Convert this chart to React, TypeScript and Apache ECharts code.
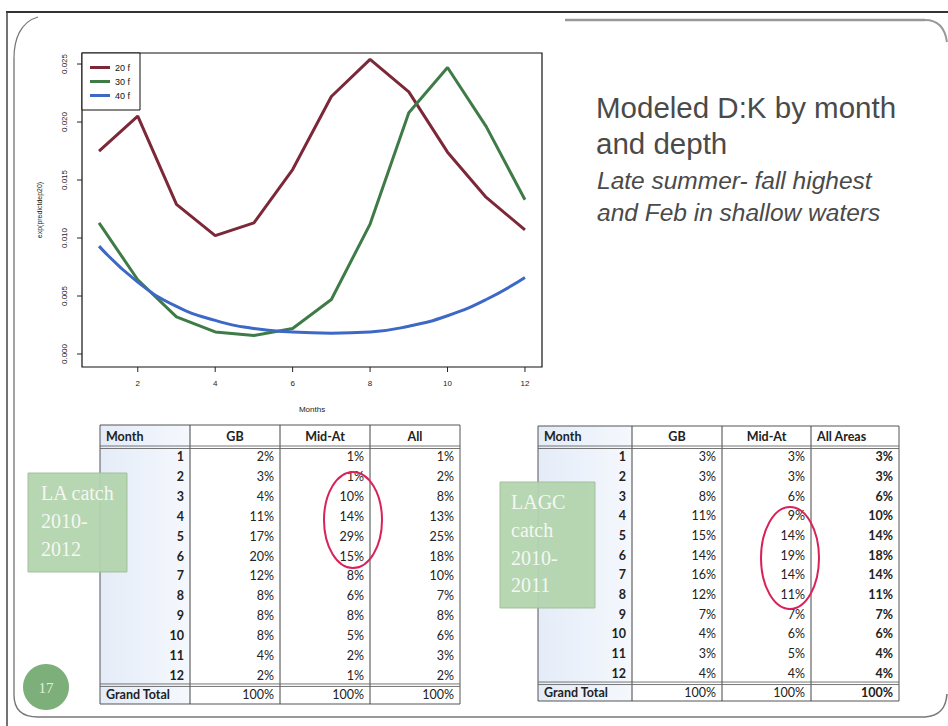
import React, { useEffect, useRef } from "react";
import * as echarts from "echarts";

// ---------- data ----------
const months = [1, 2, 3, 4, 5, 6, 7, 8, 9, 10, 11, 12];
const seriesNames = ["20 f", "30 f", "40 f"];
const dep20 = [0.0175, 0.0205, 0.0129, 0.0102, 0.0113, 0.0159, 0.0222, 0.0254, 0.0226, 0.0174, 0.0135, 0.0107];
const dep30 = [0.0113, 0.0064, 0.0032, 0.0019, 0.0016, 0.0022, 0.0047, 0.0112, 0.0208, 0.0247, 0.0196, 0.0133];
const dep40 = [0.0093, 0.0062, 0.0041, 0.0029, 0.0022, 0.0019, 0.0018, 0.0019, 0.0024, 0.0033, 0.0047, 0.0066];
const xTicks = [2, 4, 6, 8, 10, 12];
const yTicks = [0, 0.005, 0.01, 0.015, 0.02, 0.025];

const laHeaders = ["Month", "GB", "Mid-At", "All"];
const laGB = [2, 3, 4, 11, 17, 20, 12, 8, 8, 8, 4, 2];
const laMidAt = [1, 1, 10, 14, 29, 15, 8, 6, 8, 5, 2, 1];
const laAll = [1, 2, 8, 13, 25, 18, 10, 7, 8, 6, 3, 2];

const lagcHeaders = ["Month", "GB", "Mid-At", "All Areas"];
const lagcGB = [3, 3, 8, 11, 15, 14, 16, 12, 7, 4, 3, 4];
const lagcMidAt = [3, 3, 6, 9, 14, 19, 14, 11, 7, 6, 5, 4];
const lagcAll = [3, 3, 6, 10, 14, 18, 14, 11, 7, 6, 4, 4];

const totalLabel = "Grand Total";
const totalValue = 100;

const titleLines = ["Modeled D:K by month", "and depth"];
const subtitleLines = ["Late summer- fall highest", "and Feb in shallow waters"];
const laBadge = ["LA catch", "2010-", "2012"];
const lagcBadge = ["LAGC", "catch", "2010-", "2011"];
const pageNumber = "17";

const X_MIN = 0.56;
const X_MAX = 12.44;
const Y_MIN = -0.00112;
const Y_MAX = 0.02595;

// ---------- helpers ----------
const TFONT = "Lato, 'Open Sans', sans-serif";
const TSIZE = 12.5;

function buildTable(
  xs: number[],
  top: number,
  headBottom: number,
  rowH: number,
  bottom: number,
  headers: string[],
  cols: number[][],
  lastBold: boolean,
  lastHeaderLeft: boolean
) {
  const els: any[] = [];
  const totalTop = headBottom + rowH * months.length;
  els.push({
    type: "rect",
    shape: { x: xs[0], y: top, width: xs[1] - xs[0], height: bottom - top },
    style: {
      fill: new echarts.graphic.LinearGradient(0, 0, 1, 0, [
        { offset: 0, color: "#e4ecf8" },
        { offset: 1, color: "#f5f8fd" },
      ]),
    },
  });
  els.push({
    type: "rect",
    shape: { x: xs[0], y: top, width: xs[4] - xs[0], height: bottom - top },
    style: { fill: "none", stroke: "#555", lineWidth: 1 },
  });
  for (let i = 1; i < 4; i++) {
    els.push({
      type: "line",
      shape: { x1: xs[i], y1: top, x2: xs[i], y2: bottom },
      style: { stroke: "#444", lineWidth: 1 },
    });
  }
  [headBottom - 1, headBottom + 1.5, totalTop - 1, totalTop + 1.5].forEach((y) => {
    els.push({
      type: "line",
      shape: { x1: xs[0], y1: y, x2: xs[4], y2: y },
      style: { stroke: "#666", lineWidth: 0.9 },
    });
  });
  const hy = (top + headBottom) / 2;
  headers.forEach((h, i) => {
    const left = i === 0 || (i === 3 && lastHeaderLeft);
    els.push({
      type: "text",
      x: left ? xs[i] + 6 : (xs[i] + xs[i + 1]) / 2,
      y: hy,
      style: {
        text: h,
        fontFamily: TFONT,
        fontWeight: "bold",
        fontSize: TSIZE,
        fill: "#222",
        align: left ? "left" : "center",
        verticalAlign: "middle",
      },
    });
  });
  months.forEach((m, r) => {
    const y = headBottom + rowH * (r + 0.5);
    const vals = [String(m), cols[0][r] + "%", cols[1][r] + "%", cols[2][r] + "%"];
    vals.forEach((v, c) => {
      els.push({
        type: "text",
        x: xs[c + 1] - 6,
        y,
        style: {
          text: v,
          fontFamily: TFONT,
          fontWeight: c === 0 || (c === 3 && lastBold) ? "bold" : "normal",
          fontSize: TSIZE,
          fill: "#222",
          align: "right",
          verticalAlign: "middle",
        },
      });
    });
  });
  const ty = (totalTop + bottom) / 2;
  els.push({
    type: "text",
    x: xs[0] + 6,
    y: ty,
    style: { text: totalLabel, fontFamily: TFONT, fontWeight: "bold", fontSize: TSIZE, fill: "#222", align: "left", verticalAlign: "middle" },
  });
  for (let c = 1; c < 4; c++) {
    els.push({
      type: "text",
      x: xs[c + 1] - 6,
      y: ty,
      style: {
        text: totalValue + "%",
        fontFamily: TFONT,
        fontWeight: c === 3 && lastBold ? "bold" : "normal",
        fontSize: TSIZE,
        fill: "#222",
        align: "right",
        verticalAlign: "middle",
      },
    });
  }
  return els;
}

function badge(x: number, y: number, w: number, h: number, lines: string[], textX: number, baselines: number[]) {
  const els: any[] = [
    {
      type: "rect",
      shape: { x, y, width: w, height: h },
      style: { fill: "#b3d4ae", stroke: "#9fbf9a", lineWidth: 1, opacity: 0.95 },
    },
  ];
  lines.forEach((t, i) => {
    els.push({
      type: "text",
      x: textX,
      y: baselines[i],
      style: {
        text: t,
        fontFamily: "'Liberation Serif', 'DejaVu Serif', serif",
        fontSize: 20,
        fill: "#f4f8f2",
        align: "left",
        verticalAlign: "bottom",
      },
    });
  });
  return els;
}

export default function App() {
  const ref = useRef<HTMLDivElement>(null);
  useEffect(() => {
    if (!ref.current) return;
    const chart = echarts.init(ref.current, null, { renderer: "svg" });
    const mk = (d: number[]) => months.map((m, i) => [m, d[i]]);
    const axisFont = "'Liberation Sans', Arial, sans-serif";

    const graphics: any[] = [
      // slide frame
      { type: "line", shape: { x1: 6, y1: 12, x2: 948, y2: 12 }, style: { stroke: "#333", lineWidth: 2 } },
      { type: "line", shape: { x1: 7, y1: 12, x2: 7, y2: 726 }, style: { stroke: "#444", lineWidth: 1.5 } },
      { type: "bezierCurve", shape: { x1: 38, y1: 17, cpx1: 20, cpy1: 22, cpx2: 14, cpy2: 40, x2: 14, y2: 58 }, style: { stroke: "#777", lineWidth: 1.2, fill: "none" } },
      { type: "line", shape: { x1: 14, y1: 58, x2: 14, y2: 695 }, style: { stroke: "#666", lineWidth: 1.2 } },
      { type: "bezierCurve", shape: { x1: 14, y1: 695, cpx1: 14, cpy1: 710, cpx2: 22, cpy2: 717, x2: 38, y2: 717 }, style: { stroke: "#777", lineWidth: 1.4, fill: "none" } },
      { type: "line", shape: { x1: 38, y1: 717, x2: 925, y2: 717 }, style: { stroke: "#777", lineWidth: 1.6 } },
      { type: "bezierCurve", shape: { x1: 925, y1: 717, cpx1: 940, cpy1: 716, cpx2: 946, cpy2: 708, x2: 947, y2: 694 }, style: { stroke: "#777", lineWidth: 1.6, fill: "none" } },
      { type: "line", shape: { x1: 565, y1: 20, x2: 925, y2: 20 }, style: { stroke: "#999", lineWidth: 2.5 } },
      { type: "bezierCurve", shape: { x1: 925, y1: 20, cpx1: 938, cpy1: 20, cpx2: 945, cpy2: 28, x2: 947, y2: 42 }, style: { stroke: "#999", lineWidth: 2, fill: "none" } },
      // title
      ...titleLines.map((t, i) => ({
        type: "text",
        x: 596,
        y: [107, 143][i],
        style: { text: t, fontFamily: "'Liberation Sans', Arial, sans-serif", fontSize: 29.5, fill: "#4a4a4a", align: "left", verticalAlign: "middle" },
      })),
      ...subtitleLines.map((t, i) => ({
        type: "text",
        x: 597,
        y: [180, 212][i],
        style: { text: t, fontFamily: "'Liberation Sans', Arial, sans-serif", fontStyle: "italic", fontSize: 24.5, fill: "#4a4a4a", align: "left", verticalAlign: "middle" },
      })),
      // tables
      ...buildTable([100, 190, 280, 370, 460], 425, 447, 19.83, 704, laHeaders, [laGB, laMidAt, laAll], false, false),
      ...buildTable([538, 632, 722, 811, 899], 426, 447, 19.67, 701, lagcHeaders, [lagcGB, lagcMidAt, lagcAll], true, true),
      // badges
      ...badge(28, 473, 99, 99, laBadge, 41, [503, 531, 559]),
      ...badge(500, 482, 95, 126, lagcBadge, 511, [512, 540, 568, 595]),
      // red ellipses
      { type: "ellipse", shape: { cx: 353, cy: 520, rx: 29, ry: 48 }, style: { fill: "none", stroke: "#d8225a", lineWidth: 2 } },
      { type: "ellipse", shape: { cx: 790, cy: 558, rx: 29, ry: 51 }, style: { fill: "none", stroke: "#d8225a", lineWidth: 2 } },
      // page number
      { type: "circle", shape: { cx: 46, cy: 687, r: 23 }, style: { fill: "#7caf79" } },
      {
        type: "text",
        x: 46,
        y: 688,
        style: { text: pageNumber, fontFamily: "'Liberation Serif', serif", fontSize: 15, fill: "#e2eedd", align: "center", verticalAlign: "middle" },
      },
    ];

    chart.setOption({
      animation: false,
      backgroundColor: "#ffffff",
      grid: {
        left: 82,
        top: 53,
        width: 460,
        height: 314,
        show: true,
        borderColor: "#111",
        borderWidth: 1.2,
        backgroundColor: "transparent",
      },
      legend: {
        left: 82,
        top: 53,
        orient: "vertical",
        padding: [9, 10, 9, 8],
        itemGap: 3,
        itemWidth: 20,
        itemHeight: 3,
        icon: "rect",
        backgroundColor: "#fff",
        borderColor: "#111",
        borderWidth: 1,
        textStyle: { fontSize: 9, fontFamily: axisFont, color: "#111", lineHeight: 11 },
        data: seriesNames,
      },
      xAxis: {
        type: "value",
        min: X_MIN,
        max: X_MAX,
        name: "Months",
        nameLocation: "middle",
        nameGap: 38,
        nameTextStyle: { fontSize: 8, fontFamily: axisFont, color: "#222" },
        axisLine: { show: false, onZero: false },
        axisTick: { show: false },
        axisLabel: { customValues: xTicks, fontSize: 8, fontFamily: axisFont, color: "#222", margin: 12 },
        splitLine: { show: false },
      },
      yAxis: {
        type: "value",
        min: Y_MIN,
        max: Y_MAX,
        name: "exp(predictdep20)",
        nameLocation: "middle",
        nameGap: 39,
        nameRotate: 90,
        nameTextStyle: { fontSize: 7, fontFamily: axisFont, color: "#222" },
        axisLine: { show: false, onZero: false },
        axisTick: { show: false },
        axisLabel: {
          customValues: yTicks,
          rotate: 90,
          fontSize: 8,
          fontFamily: axisFont,
          color: "#222",
          margin: 14,
          formatter: (v: number) => v.toFixed(3),
        },
        splitLine: { show: false },
      },
      series: [
        { name: seriesNames[0], type: "line", data: mk(dep20), symbol: "none", showSymbol: false, lineStyle: { color: "#7c2838", width: 3 }, itemStyle: { color: "#7c2838" } },
        { name: seriesNames[1], type: "line", data: mk(dep30), symbol: "none", showSymbol: false, lineStyle: { color: "#3f7b47", width: 3 }, itemStyle: { color: "#3f7b47" } },
        { name: seriesNames[2], type: "line", data: mk(dep40), smooth: true, symbol: "none", showSymbol: false, lineStyle: { color: "#3d68c6", width: 3 }, itemStyle: { color: "#3d68c6" } },
      ],
      graphic: graphics,
    });

    // axis ticks placed through the chart's own scales
    const ticks: any[] = [];
    xTicks.forEach((v) => {
      const p = chart.convertToPixel({ gridIndex: 0 }, [v, Y_MIN]) as number[];
      ticks.push({ type: "line", shape: { x1: p[0], y1: p[1], x2: p[0], y2: p[1] + 5 }, style: { stroke: "#222", lineWidth: 1 } });
    });
    yTicks.forEach((v) => {
      const p = chart.convertToPixel({ gridIndex: 0 }, [X_MIN, v]) as number[];
      ticks.push({ type: "line", shape: { x1: p[0] - 5, y1: p[1], x2: p[0], y2: p[1] }, style: { stroke: "#222", lineWidth: 1 } });
    });
    chart.setOption({ graphic: [...graphics, ...ticks] });

    return () => chart.dispose();
  }, []);
  return <div ref={ref} style={{ position: "absolute", left: 0, top: 0, width: 948, height: 726 }} />;
}
